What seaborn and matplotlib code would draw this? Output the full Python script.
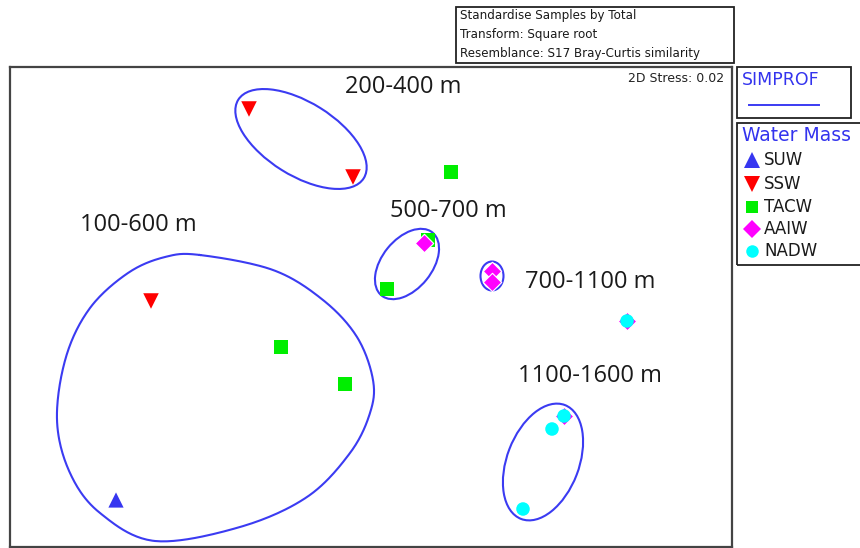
import numpy as np
import pandas as pd
import matplotlib
matplotlib.use("Agg")
import matplotlib.pyplot as plt
import seaborn as sns
from matplotlib.patches import Ellipse, Rectangle
from matplotlib.lines import Line2D

# --- nMDS sample positions ---
mds1 = [116, 249, 353, 151, 451, 387, 281, 345, 428, 424, 492, 492, 627, 564, 552, 523]
mds2 = [500, 109, 177, 301, 172, 289, 347, 384, 240, 243, 270.5, 281.5, 321, 416, 429, 509]
water_mass = ["SUW", "SSW", "SSW", "SSW", "TACW", "TACW", "TACW", "TACW", "TACW",
              "AAIW", "AAIW", "AAIW", "AAIW", "AAIW", "NADW", "NADW"]
# NADW samples that sit on top of AAIW samples
extra_x = [627, 564]
extra_y = [321, 416]

mass_order = ["SUW", "SSW", "TACW", "AAIW", "NADW"]
mass_colors = {"SUW": "#3636f0", "SSW": "#ff0000", "TACW": "#00ee00",
               "AAIW": "#ff00ff", "NADW": "#00ffff"}
mass_markers = {"SUW": "^", "SSW": "v", "TACW": "s", "AAIW": "D", "NADW": "o"}
mass_sizes = {"SUW": 120, "SSW": 125, "TACW": 95, "AAIW": 88, "NADW": 95}

# SIMPROF groups drawn as ellipses: centre, width, height, angle
ell_labels = ["200-400 m", "500-700 m", "700-1100 m", "1100-1600 m"]
ell_cx = [301, 407, 492, 543]
ell_cy = [139, 264, 276, 462]
ell_w = [148, 81, 23, 122]
ell_h = [73, 50, 29, 72]
ell_ang = [32, -51, 0, -69]

# irregular SIMPROF group (100-600 m) outline
blob_x = [200, 273, 323, 357, 373, 370, 350, 307, 240, 155, 100, 70, 57, 66, 90, 128, 165]
blob_y = [255, 270, 300, 337, 380, 413, 453, 497, 527, 541, 513, 473, 420, 357, 308, 273, 257]

# group labels
grp_labels = ["200-400 m", "100-600 m", "500-700 m", "700-1100 m", "1100-1600 m"]
grp_x = [345, 80, 390, 525, 518]
grp_y = [87, 225, 211, 282, 376]

info_lines = ["Standardise Samples by Total", "Transform: Square root",
              "Resemblance: S17 Bray-Curtis similarity"]
stress = 0.02

df = pd.DataFrame({"MDS1": mds1, "MDS2": mds2, "Water Mass": water_mass})
df_top = pd.DataFrame({"MDS1": extra_x, "MDS2": extra_y, "Water Mass": "NADW"})
df = pd.concat([df, df_top], ignore_index=True)


def closed_spline(xs, ys, n=25):
    # closed Catmull-Rom curve through the outline points
    p = np.column_stack([xs, ys]).astype(float)
    m = len(p)
    t = np.linspace(0, 1, n, endpoint=False)[:, None]
    segs = []
    for i in range(m):
        p0, p1, p2, p3 = p[i - 1], p[i], p[(i + 1) % m], p[(i + 2) % m]
        segs.append(0.5 * (2 * p1 + (-p0 + p2) * t
                           + (2 * p0 - 5 * p1 + 4 * p2 - p3) * t ** 2
                           + (-p0 + 3 * p1 - 3 * p2 + p3) * t ** 3))
    pts = np.vstack(segs)
    return np.vstack([pts, pts[:1]])


W, H = 860, 548
fig = plt.figure(figsize=(W / 100, H / 100), dpi=100)
fig.patch.set_facecolor("white")

def fx(px):
    return px / W

def fy(py):
    return 1 - py / H

ax = fig.add_axes([fx(10), fy(547), (732 - 10) / W, (547 - 67) / H])
line_blue = "#3b3bf2"

# contours first, then the samples
bx = closed_spline(blob_x, blob_y)
ax.plot(bx[:, 0], bx[:, 1], color=line_blue, lw=1.5)
for cx, cy, w, h, a in zip(ell_cx, ell_cy, ell_w, ell_h, ell_ang):
    ax.add_patch(Ellipse((cx, cy), w, h, angle=a, fill=False, ec=line_blue, lw=1.5))

for wm in mass_order:
    sub = df[df["Water Mass"] == wm]
    sns.scatterplot(data=sub, x="MDS1", y="MDS2", color=mass_colors[wm],
                    marker=mass_markers[wm], s=mass_sizes[wm],
                    edgecolor="white" if wm == "AAIW" else "none",
                    linewidth=0.8, ax=ax, legend=False, zorder=3)

for lab, x, y in zip(grp_labels, grp_x, grp_y):
    ax.text(x, y, lab, fontsize=17, family="Open Sans", color="#1a1a1a",
            ha="left", va="center")

ax.text(724, 78, f"2D Stress: {stress:.2f}", fontsize=9, family="DejaVu Sans",
        color="#222222", ha="right", va="center")

ax.set_xlim(10, 732)
ax.set_ylim(547, 67)
ax.set_xticks([])
ax.set_yticks([])
ax.set_xlabel("")
ax.set_ylabel("")
for sp in ax.spines.values():
    sp.set_color("#444444")
    sp.set_linewidth(1.6)

# info box at the top
fig.patches.append(Rectangle((fx(456), fy(63)), (734 - 456) / W, (63 - 7) / H,
                             transform=fig.transFigure, fill=False, ec="#222222", lw=1.3))
for i, line in enumerate(info_lines):
    fig.text(fx(460), fy(16 + 18.5 * i), line, fontsize=8.6, family="DejaVu Sans",
             color="#1a1a1a", ha="left", va="center")

# SIMPROF key
fig.patches.append(Rectangle((fx(737), fy(118)), (851 - 737) / W, (118 - 67) / H,
                             transform=fig.transFigure, fill=False, ec="#222222", lw=1.3))
fig.text(fx(742), fy(80), "SIMPROF", fontsize=12.5, family="DejaVu Sans",
         color="#3333ee", ha="left", va="center")
fig.add_artist(Line2D([fx(749), fx(819)], [fy(105), fy(105)], color=line_blue, lw=1.4))

# Water Mass legend
fig.patches.append(Rectangle((fx(737), fy(265)), (870 - 737) / W, (265 - 123) / H,
                             transform=fig.transFigure, fill=False, ec="#222222", lw=1.3))
fig.text(fx(742), fy(135), "Water Mass", fontsize=13.5, family="DejaVu Sans",
         color="#3333ee", ha="left", va="center")
leg_y = [160, 184, 207, 229, 251]
for wm, y in zip(mass_order, leg_y):
    fig.add_artist(Line2D([fx(752)], [fy(y)], marker=mass_markers[wm], ls="none",
                          color=mass_colors[wm], markersize=11 if wm in ("SUW", "SSW") else 9,
                          markeredgewidth=0))
    fig.text(fx(764), fy(y), wm, fontsize=12, family="DejaVu Sans",
             color="#1a1a1a", ha="left", va="center")

fig.savefig("out.png", dpi=100)
